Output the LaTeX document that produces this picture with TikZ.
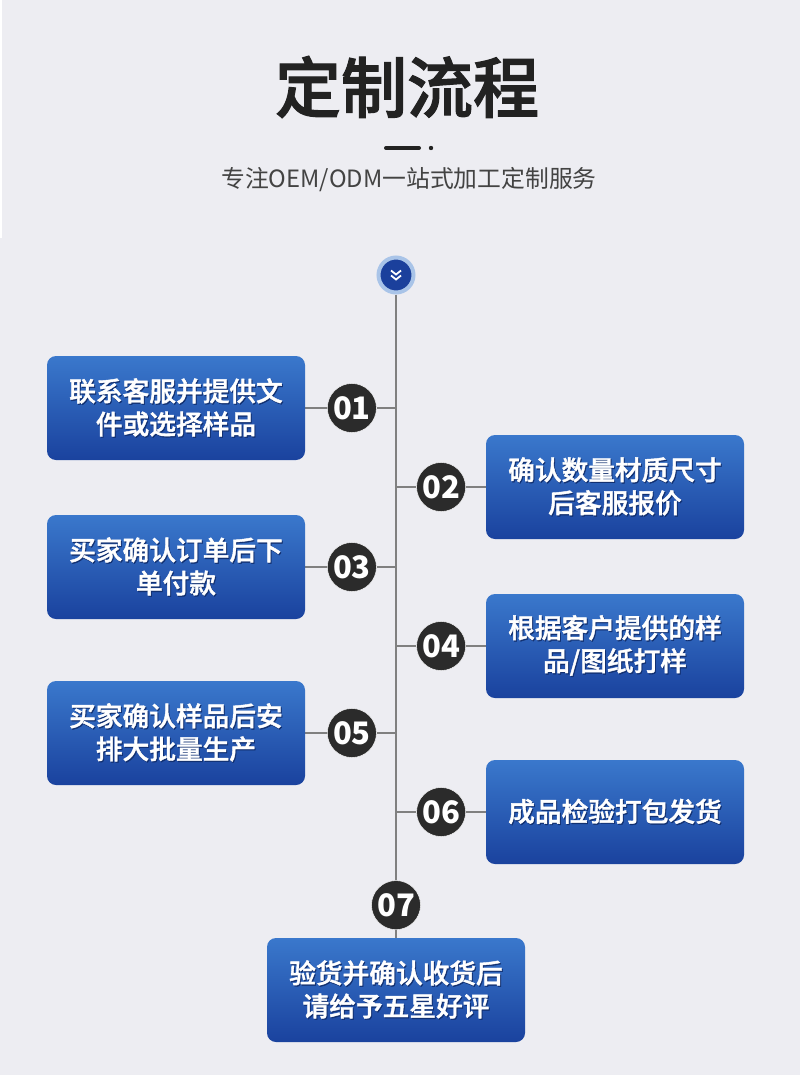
\documentclass[tikz,border=0pt]{standalone}
\usepackage{fontspec}
\setmainfont{Noto Sans CJK SC}
\newfontfamily\midfont{Noto Sans CJK SC Medium}[FakeBold=1.6]
\usepackage{xcolor}
\usetikzlibrary{positioning, backgrounds}
\definecolor{pagebg}{HTML}{EDEDF2}
\definecolor{inkblack}{HTML}{222222}
\definecolor{numblack}{HTML}{2B2B2B}
\definecolor{boxtop}{HTML}{3A78CC}
\definecolor{boxbottom}{HTML}{1A429E}
\definecolor{boxshade}{HTML}{123070}
\definecolor{ringblue}{HTML}{A9C4E8}
\definecolor{startblue}{HTML}{1B409C}
\newcommand{\shtext}[1]{\makebox[0pt][l]{\raisebox{-1.2pt}{\hspace{1pt}\textcolor{boxshade}{#1}}}#1}
\tikzset{
  block/.style={rectangle, rounded corners=9pt, minimum width=258pt, minimum height=104pt,
                top color=boxtop, bottom color=boxbottom, text=white, align=center,
                inner sep=0pt, font=\fontsize{26.7}{33}\midfont},
  numdot/.style={circle, fill=numblack, draw=white, line width=0.4pt, minimum size=49pt, inner sep=0pt,
                 text=white, font=\fontsize{31}{31}\selectfont\bfseries},
  stem/.style={draw=gray, line width=1.4pt}
}

\begin{document}
\begin{tikzpicture}[x=1pt, y=-1pt, node distance=22pt]

  \useasboundingbox (0,0) rectangle (800,1075);

  % heading
  \node[text=inkblack, font=\fontsize{66}{70}\midfont] (title) at (407,87) {定制流程};
  \draw[inkblack, line width=4pt, line cap=round] (386,148) -- (419,148);
  \fill[inkblack] (431,148) circle (2.2);
  \node[text=inkblack!85, font=\fontsize{23.8}{28}\selectfont] (subtitle) at (409,180) {专注OEM/ODM一站式加工定制服务};

  % top marker
  \node[circle, fill=startblue, draw=ringblue, line width=4pt, minimum size=35pt, inner sep=0pt] (start) at (396,275) {};
  \draw[white, line width=1.8pt] (391,270.5) -- (396,274.5) -- (401,270.5);
  \draw[white, line width=1.8pt] (391,275.5) -- (396,279.5) -- (401,275.5);

  % boxes
  \node[block] (step01) at (176,408) {\shtext{联系客服并提供文}\\\shtext{件或选择样品}};
  \node[block] (step02) at (615,487) {\shtext{确认数量材质尺寸}\\\shtext{后客服报价}};
  \node[block] (step03) at (176,567) {\shtext{买家确认订单后下}\\\shtext{单付款}};
  \node[block] (step04) at (615,646) {\shtext{根据客户提供的样}\\\shtext{品/图纸打样}};
  \node[block] (step05) at (176,733) {\shtext{买家确认样品后安}\\\shtext{排大批量生产}};
  \node[block] (step06) at (615,812) {\shtext{成品检验打包发货}};
  \node[block] (step07) at (396,990) {\shtext{验货并确认收货后}\\\shtext{请给予五星好评}};

  % numbers
  \node[numdot, right=of step01] (num01) {01};
  \node[numdot, left=20pt of step02] (num02) {02};
  \node[numdot, right=of step03] (num03) {03};
  \node[numdot, left=20pt of step04] (num04) {04};
  \node[numdot, right=of step05] (num05) {05};
  \node[numdot, left=20pt of step06] (num06) {06};
  \node[numdot, above=8pt of step07] (num07) {07};

  \begin{scope}[on background layer]
    \fill[pagebg] (0,0) rectangle (800,1075);
    \fill[white] (0,0) rectangle (2,238);
    \draw[stem] (start) -- (step07.north);
    \foreach \n in {01,03,05}
      \draw[stem] (step\n.east) -- (num\n.west) (num\n.east) -- (num\n.east -| start);
    \foreach \n in {02,04,06}
      \draw[stem] (step\n.west) -- (num\n.east) (num\n.west) -- (num\n.west -| start);
  \end{scope}

\end{tikzpicture}
\end{document}
